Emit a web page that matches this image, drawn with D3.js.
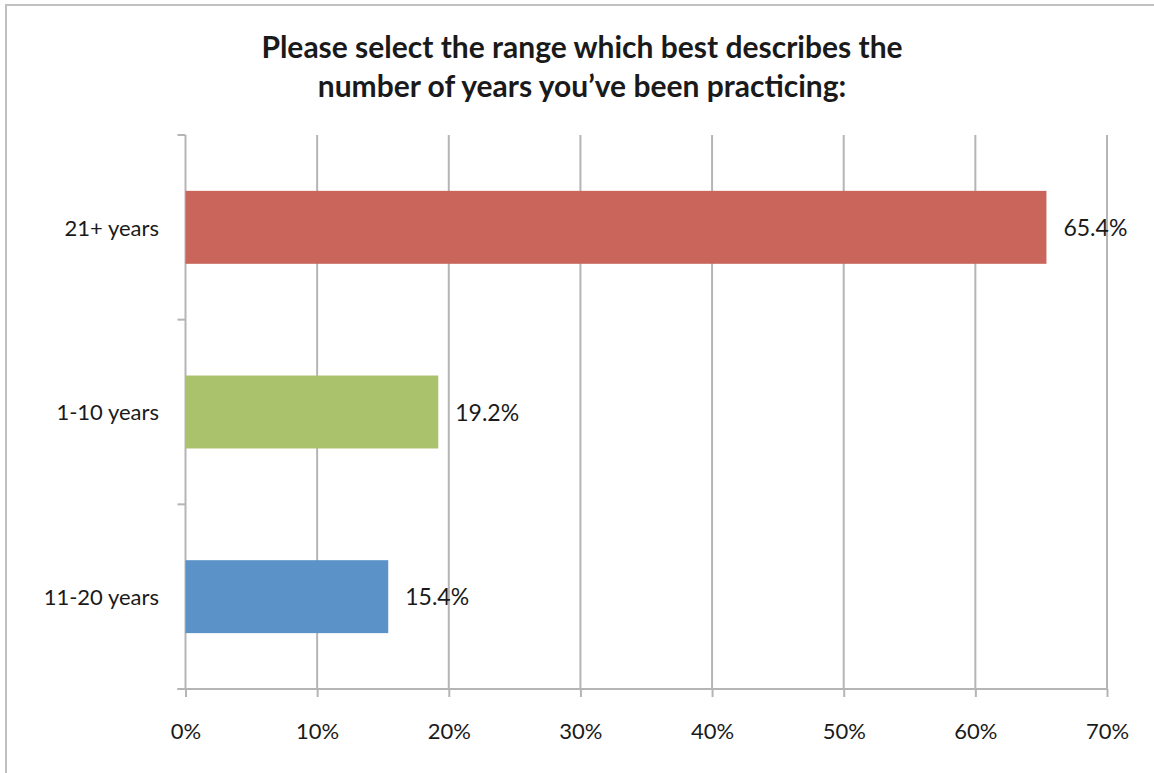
<!DOCTYPE html>
<html>
<head>
<meta charset="utf-8">
<script src="https://cdn.jsdelivr.net/npm/d3@7"></script>
<style>
  html, body { margin: 0; padding: 0; background: #fff; }
  svg { display: block; }
  text { font-family: Lato, "Open Sans", sans-serif; fill: #1a1a1a; }
</style>
</head>
<body>
<svg id="chart" width="1154" height="773"></svg>
<script>
// Survey responses: years in practice
const categories = ["21+ years", "1-10 years", "11-20 years"];
const shares = [0.654, 0.192, 0.154];
const barColors = ["#C9655B", "#AAC26B", "#5B92C8"];
const tickValues = [0, 0.1, 0.2, 0.3, 0.4, 0.5, 0.6, 0.7];
const titleLines = [
  "Please select the range which best describes the",
  "number of years you\u2019ve been practicing:"
];

const svg = d3.select("#chart");
const W = 1154, H = 773;
const plot = { left: 185.5, right: 1107, top: 135, bottom: 689 };
const gridColor = "#b5b5b5";

// outer chart frame
svg.append("rect")
  .attr("x", 6).attr("y", 5)
  .attr("width", W + 10).attr("height", H + 10)
  .attr("fill", "none").attr("stroke", "#c0c0c0").attr("stroke-width", 2);

// title
svg.append("g").selectAll("text").data(titleLines).join("text")
  .attr("x", 582).attr("y", (d, i) => 58 + i * 39)
  .attr("text-anchor", "middle")
  .attr("font-size", 30).attr("font-weight", 700)
  .text(d => d);

const x = d3.scaleLinear().domain([0, 0.7]).range([plot.left, plot.right]);
const y = d3.scaleBand().domain(categories)
  .range([plot.top, plot.bottom])
  .paddingInner(0.605).paddingOuter(0.3025);

// vertical gridlines
svg.append("g").selectAll("line").data(tickValues.slice(1)).join("line")
  .attr("x1", d => x(d)).attr("x2", d => x(d))
  .attr("y1", plot.top).attr("y2", plot.bottom)
  .attr("stroke", gridColor).attr("stroke-width", 2);

// x axis
const xAxis = d3.axisBottom(x).tickValues(tickValues)
  .tickFormat(d3.format(".0%")).tickSize(8).tickPadding(26);
const gx = svg.append("g").attr("transform", `translate(0,${plot.bottom})`).call(xAxis);
gx.select(".domain").attr("stroke", gridColor).attr("stroke-width", 2)
  .attr("d", `M${plot.left - 8},0H${plot.right}`);
gx.selectAll(".tick line").attr("stroke", gridColor).attr("stroke-width", 2);
gx.selectAll(".tick text").attr("font-size", 22).attr("fill", "#1a1a1a")
  .attr("font-family", "Lato, 'Open Sans', sans-serif");

// y axis: line with ticks at band boundaries
const step = y.step();
const boundaries = d3.range(categories.length + 1).map(i => plot.top + i * step);
const gy = svg.append("g");
gy.append("line")
  .attr("x1", plot.left).attr("x2", plot.left)
  .attr("y1", plot.top).attr("y2", plot.bottom)
  .attr("stroke", gridColor).attr("stroke-width", 2);
gy.selectAll(".ytick").data(boundaries).join("line")
  .attr("class", "ytick")
  .attr("x1", plot.left - 8).attr("x2", plot.left)
  .attr("y1", d => d).attr("y2", d => d)
  .attr("stroke", gridColor).attr("stroke-width", 2);

// category labels
gy.selectAll("text").data(categories).join("text")
  .attr("x", 159)
  .attr("y", d => y(d) + y.bandwidth() / 2)
  .attr("dy", "0.38em")
  .attr("text-anchor", "end")
  .attr("font-size", 22)
  .text(d => d);

// bars
const rows = categories.map((c, i) => ({ c, v: shares[i], color: barColors[i] }));
svg.append("g").selectAll("rect").data(rows).join("rect")
  .attr("x", x(0))
  .attr("y", d => y(d.c))
  .attr("width", d => x(d.v) - x(0))
  .attr("height", y.bandwidth())
  .attr("fill", d => d.color);

// value labels
svg.append("g").selectAll("text").data(rows).join("text")
  .attr("x", d => x(d.v) + 17)
  .attr("y", d => y(d.c) + y.bandwidth() / 2)
  .attr("dy", "0.38em")
  .attr("font-size", 23)
  .text(d => d3.format(".1%")(d.v));
</script>
</body>
</html>
